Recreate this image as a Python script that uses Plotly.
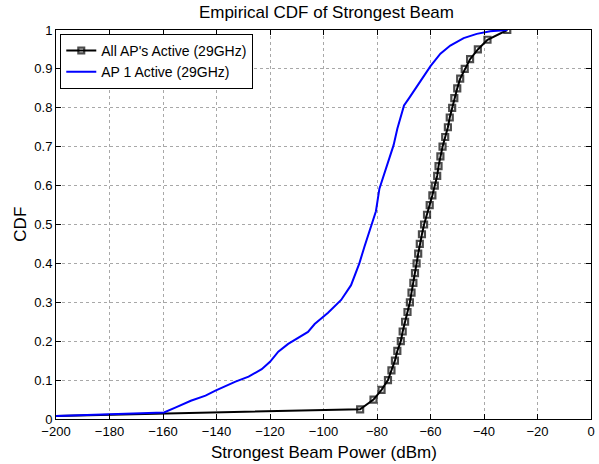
import plotly.graph_objects as go

# Black series: All AP's Active (29GHz)
all_ap_x = [-200, -86.3, -81.3, -78.3, -75.9, -74.6, -73.3, -72.4, -71.1, -70.4, -69.5,
            -68.6, -67.7, -67.1, -66.4, -65.8, -65.2, -64.6, -64.0, -63.2, -62.4,
            -61.3, -60.3, -59.3, -58.4, -57.5, -57.0, -56.3, -55.5, -54.5, -53.5,
            -52.8, -51.9, -51.1, -50.0, -48.9, -47.2, -45.2, -42.3, -38.7, -31.3]
all_ap_y = [0.008, 0.025, 0.05, 0.075, 0.1, 0.125, 0.15, 0.175, 0.2, 0.225, 0.25,
            0.275, 0.3, 0.325, 0.35, 0.375, 0.4, 0.425, 0.45, 0.475, 0.5,
            0.525, 0.55, 0.575, 0.6, 0.625, 0.65, 0.675, 0.7, 0.725, 0.75,
            0.775, 0.8, 0.825, 0.85, 0.875, 0.9, 0.925, 0.95, 0.975, 1.0]

# Blue series: AP 1 Active (29GHz)
ap1_x = [-200, -161.4, -159.6, -155.2, -149.6, -144.1, -140.4, -132.9, -128.0, -123.1,
         -120.0, -116.9, -113.2, -105.8, -103.3, -98.3, -93.4, -89.7, -86.6, -84.7,
         -82.3, -80.4, -79.1, -77.9, -75.4, -73.8, -72.4, -71.1, -69.9, -68.0,
         -64.9, -62.4, -60.0, -56.3, -52.6, -47.6, -42.7, -37.7, -31.3]
ap1_y = [0.008, 0.015, 0.017, 0.030, 0.047, 0.060, 0.073, 0.096, 0.109, 0.128,
         0.147, 0.173, 0.193, 0.224, 0.244, 0.273, 0.306, 0.344, 0.400, 0.443,
         0.494, 0.534, 0.592, 0.618, 0.669, 0.704, 0.746, 0.781, 0.806, 0.825,
         0.856, 0.883, 0.907, 0.939, 0.960, 0.979, 0.990, 0.997, 1.0]

x_ticks = [-200, -180, -160, -140, -120, -100, -80, -60, -40, -20, 0]
y_ticks = [0, 0.1, 0.2, 0.3, 0.4, 0.5, 0.6, 0.7, 0.8, 0.9, 1]

marker_sizes = [0] + [6] * (len(all_ap_x) - 1)

fig = go.Figure()
fig.add_trace(go.Scatter(
    x=all_ap_x, y=all_ap_y, mode="lines+markers",
    name="All AP's Active (29GHz)",
    line=dict(color="black", width=2),
    marker=dict(symbol="square-open", size=marker_sizes, color="black",
                line=dict(width=2.2, color="black")),
))
fig.add_trace(go.Scatter(
    x=ap1_x, y=ap1_y, mode="lines",
    name="AP 1 Active (29GHz)",
    line=dict(color="#0000ff", width=2),
))

axis_common = dict(
    showline=True, linecolor="black", linewidth=1, mirror="ticks",
    ticks="inside", ticklen=5, tickcolor="black",
    showgrid=True, gridcolor="#a8a8a8", griddash="dot", gridwidth=1,
    zeroline=False, tickfont=dict(size=13, color="black"),
    ticklabeloverflow="allow",
)

fig.update_layout(
    width=599, height=464,
    margin=dict(l=56, r=4, t=30, b=45),
    paper_bgcolor="white", plot_bgcolor="white",
    font=dict(family="Liberation Sans, Arial, sans-serif", color="black"),
    title=dict(text="Empirical CDF of Strongest Beam", x=0.545, xanchor="center",
               y=0.974, yanchor="middle", font=dict(size=17)),
    xaxis=dict(range=[-200, 0], tickvals=x_ticks, **axis_common),
    yaxis=dict(range=[0, 1], tickvals=y_ticks, **axis_common),
    legend=dict(x=0.008, y=0.99, xanchor="left", yanchor="top",
                bgcolor="white", bordercolor="black", borderwidth=1,
                font=dict(size=14), tracegroupgap=0, itemwidth=30),
    showlegend=True,
    annotations=[
        dict(text="Strongest Beam Power (dBm)", xref="paper", yref="paper",
             x=0.5, y=-0.085, xanchor="center", yanchor="middle",
             showarrow=False, font=dict(size=17)),
        dict(text="CDF", xref="paper", yref="paper", textangle=-90,
             x=-0.067, y=0.5, xanchor="center", yanchor="middle",
             showarrow=False, font=dict(size=17)),
    ],
)

fig.write_html("out.html", config={"displayModeBar": False},
               post_script="document.body.style.margin='0';document.body.style.overflow='hidden';")
